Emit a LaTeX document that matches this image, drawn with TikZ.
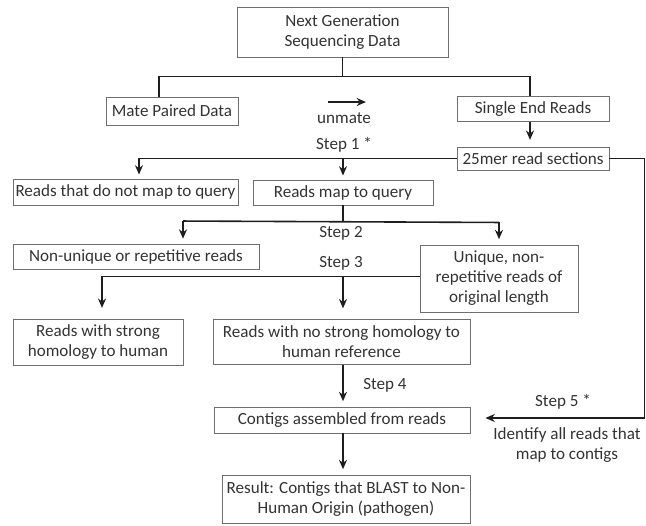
\documentclass[tikz,border=0pt]{standalone}
\usepackage{fontspec}
\setmainfont{Carlito}
\usetikzlibrary{calc,arrows.meta}
\definecolor{txt}{HTML}{333333}
\definecolor{boxc}{HTML}{6E6E6E}
\definecolor{linec}{HTML}{1E1E1E}
\begin{document}
\begin{tikzpicture}[x=0.75pt,y=-0.75pt,
  every node/.style={text=txt,font=\fontsize{12.8}{15}\selectfont,inner sep=0pt},
  box/.style={draw=boxc,line width=0.7pt,rectangle,align=center},
  conn/.style={draw=linec,line width=1.2pt},
  arr/.style={conn,-{Stealth[length=7pt,width=6pt]}},
  lbl/.style={align=center}]
\useasboundingbox (0,0) rectangle (646,525);
% boxes
\node[box,minimum width=211*0.75pt,minimum height=50*0.75pt] (ngs) at (342.5,32) {Next Generation\\Sequencing Data};
\node[box,minimum width=132*0.75pt,minimum height=28*0.75pt] (mate) at (172,111) {Mate Paired Data};
\node[box,minimum width=152*0.75pt,minimum height=25*0.75pt] (single) at (533,109) {Single End Reads};
\node[box,minimum width=152*0.75pt,minimum height=23*0.75pt] (mer) at (533,158.5) {25mer read sections};
\node[box,minimum width=225*0.75pt,minimum height=26*0.75pt] (notmap) at (125.5,192) {Reads that do not map to query};
\node[box,minimum width=180*0.75pt,minimum height=25*0.75pt] (map) at (343,192.5) {Reads map to query};
\node[box,minimum width=246*0.75pt,minimum height=25*0.75pt] (nonuniq) at (136,257) {Non-unique or repetitive reads};
\node[box,minimum width=158*0.75pt,minimum height=67*0.75pt] (uniq) at (499,278.5) {Unique, non-\\repetitive reads of\\original length};
\node[box,minimum width=170*0.75pt,minimum height=46*0.75pt] (strong) at (98,342) {Reads with strong\\homology to human};
\node[box,minimum width=257*0.75pt,minimum height=45*0.75pt] (nostrong) at (341.5,342) {Reads with no strong homology to\\human reference};
\node[box,minimum width=256*0.75pt,minimum height=26*0.75pt] (contigs) at (342,420) {Contigs assembled from reads};
\node[box,minimum width=248*0.75pt,minimum height=48*0.75pt] (result) at (346,499) {Result: Contigs that BLAST to Non-\\Human Origin (pathogen)};
% labels
\node[lbl] (unmate) at (344,118) {unmate};
\coordinate (ua) at (328,102);
\coordinate (ub) at (366,102);
\node[lbl] (s1) at (344,145) {Step 1 *};
\node[lbl] (s2) at (341,233) {Step 2};
\node[lbl] (s3) at (341,263) {Step 3};
\node[lbl,anchor=west] (s4) at (363,385) {Step 4};
\node[lbl] (s5) at (563,402) {Step 5 *};
\node[lbl] (ident) at (567,445) {Identify all reads that\\map to contigs};
% connectors
\draw[arr] (ua) -- (ub);
\coordinate (j0) at ($(ngs.south)+(0,19)$);
\draw[conn] (ngs.south) -- (j0);
\draw[conn] ($(mate.north)+(-13,0)$) |- (j0) -| ($(single.north)+(-3,0)$);
\draw[arr,shorten >=5pt] ($(single.south)+(-3,0)$) -- ($(mer.north)+(-3,0)$);
\draw[arr,shorten >=3pt] (mer.west) -| ($(notmap.north)+(13.5,0)$);
\draw[arr,shorten >=3pt] (mer.west -| map.north) -- (map.north);
\draw[arr,shorten >=3pt] (mer.east) -| ($(mer.east)+(35,0)$) |- ($(contigs.east)+(11,-2)$);
\draw[conn] (map.south) -- ++(0,17) coordinate (j2);
\draw[arr,shorten >=4pt] ($(nonuniq.north)+(47,0)$) ++(0,-23) coordinate (j2l) -- ($(nonuniq.north)+(47,0)$);
\draw[conn] (j2l) -- (j2 -| uniq.north);
\draw[arr,shorten >=4pt] (j2 -| uniq.north) -- (uniq.north);
\coordinate (j3) at ($(uniq.west)+(0,-2)$);
\draw[arr,shorten >=8pt] (j3) -| ($(strong.north)+(4,0)$);
\draw[arr,shorten >=8pt] (j3 -| map.south) -- (map.south |- nostrong.north);
\draw[arr,shorten >=4pt] (map.south |- nostrong.south) -- (map.south |- contigs.north);
\draw[arr,shorten >=4pt] (map.south |- contigs.south) -- (map.south |- result.north);
\end{tikzpicture}
\end{document}
